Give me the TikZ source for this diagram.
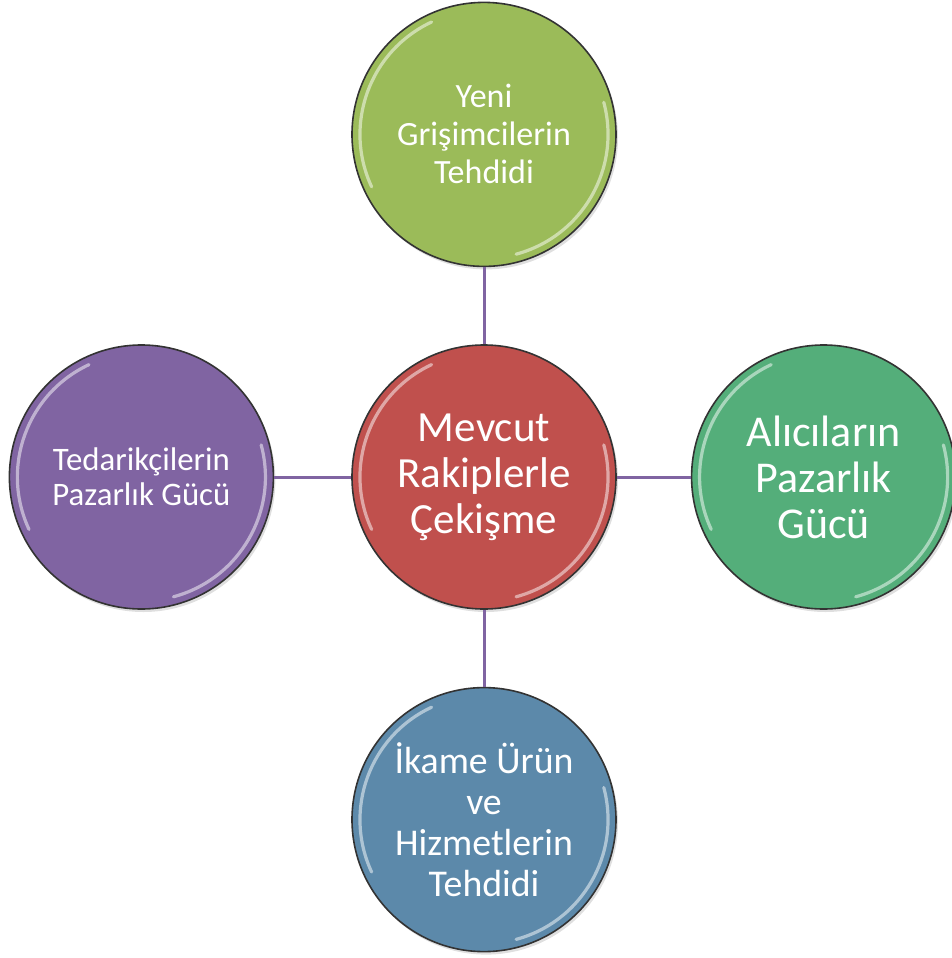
\documentclass[tikz,border=0pt]{standalone}
\usepackage{fontspec}
\setmainfont{Carlito}
\usepackage{xcolor}
\usepackage{tikz}
\usetikzlibrary{positioning,shadows}

\definecolor{yeniGreen}{RGB}{155,187,89}
\definecolor{mevcutRed}{RGB}{192,80,77}
\definecolor{tedarikPurple}{RGB}{128,100,162}
\definecolor{aliciGreen}{RGB}{84,174,122}
\definecolor{ikameBlue}{RGB}{92,137,170}

\begin{document}
\begin{tikzpicture}[
  x=0.5pt, y=-0.5pt,
  node distance=38.5pt,
  force/.style={circle, draw=black!80, line width=0.8pt, minimum size=132pt, inner sep=0pt,
    align=center, text=white, drop shadow={opacity=0.25, shadow xshift=1pt, shadow yshift=-1.5pt}},
  link/.style={draw=tedarikPurple, line width=1.5pt},
  gloss/.style={draw=white, line width=1.6pt, opacity=0.5, line cap=round}
]
\useasboundingbox (0,0) rectangle (952,958);

\node[force, fill=mevcutRed, font=\fontsize{21.5}{23}\selectfont] (mevcut) at (484,477) {Mevcut\\Rakiplerle\\Çekişme};
\node[force, fill=yeniGreen, font=\fontsize{17}{19}\selectfont, above=of mevcut] (yeni) {Yeni\\Grişimcilerin\\Tehdidi};
\node[force, fill=tedarikPurple, font=\fontsize{16.4}{17.5}\selectfont, left=of mevcut] (tedarik) {Tedarikçilerin\\Pazarlık Gücü};
\node[force, fill=aliciGreen, font=\fontsize{22}{23}\selectfont, right=37pt of mevcut] (alici) {Alıcıların\\Pazarlık\\Gücü};
\node[force, fill=ikameBlue, font=\fontsize{18.9}{20.5}\selectfont, below=of mevcut] (ikame) {İkame Ürün\\ve\\Hizmetlerin\\Tehdidi};

% connectors
\draw[link] (mevcut) -- (yeni);
\draw[link] (mevcut) -- (tedarik);
\draw[link] (mevcut) -- (alici);
\draw[link] (mevcut) -- (ikame);

% glossy rim
\foreach \n in {mevcut,yeni,tedarik,alici,ikame} {
  \draw[gloss] (\n.center) ++(115:62pt) arc[start angle=115, end angle=205, radius=62pt];
  \draw[gloss] (\n.center) ++(-75:62pt) arc[start angle=-75, end angle=15, radius=62pt];
}
\end{tikzpicture}
\end{document}
